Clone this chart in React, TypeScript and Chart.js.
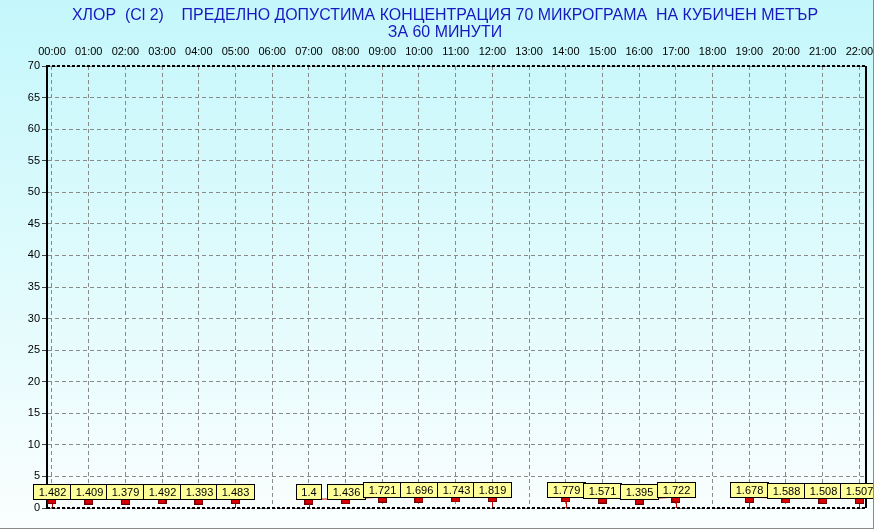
import React, { useEffect, useRef } from 'react';
import { Chart, registerables } from 'chart.js';

Chart.register(...registerables);

const hours = [0, 1, 2, 3, 4, 5, 6, 7, 8, 9, 10, 11, 12, 13, 14, 15, 16, 17, 18, 19, 20, 21, 22];
const hourLabels = ['00:00', '01:00', '02:00', '03:00', '04:00', '05:00', '06:00', '07:00', '08:00', '09:00', '10:00', '11:00', '12:00', '13:00', '14:00', '15:00', '16:00', '17:00', '18:00', '19:00', '20:00', '21:00', '22:00'];
const chlorineValues: (number | null)[] = [1.482, 1.409, 1.379, 1.492, 1.393, 1.483, null, 1.4, 1.436, 1.721, 1.696, 1.743, 1.819, null, 1.779, 1.571, 1.395, 1.722, null, 1.678, 1.588, 1.508, 1.507];
const yMin = 0;
const yMax = 70;
const yStep = 5;
const titleLines = ['ХЛОР  (Cl 2)    ПРЕДЕЛНО ДОПУСТИМА КОНЦЕНТРАЦИЯ 70 МИКРОГРАМА  НА КУБИЧЕН МЕТЪР', 'ЗА 60 МИНУТИ'];

const FONT = '"Liberation Sans", Arial, sans-serif';

function makeMarker(): HTMLCanvasElement {
  const c = document.createElement('canvas');
  c.width = 9;
  c.height = 11;
  const g = c.getContext('2d')!;
  g.fillStyle = '#6a0000';
  g.fillRect(0, 5, 9, 6);
  g.fillStyle = '#d80000';
  g.fillRect(1, 6, 7, 4);
  return c;
}

const decorPlugin = {
  id: 'decor',
  afterDatasetsDraw(chart: any) {
    const ctx = chart.ctx as CanvasRenderingContext2D;
    const area = chart.chartArea;
    const meta = chart.getDatasetMeta(0);
    ctx.save();
    // stems at segment ends
    ctx.strokeStyle = '#d00000';
    ctx.lineWidth = 1;
    chlorineValues.forEach((v, i) => {
      if (v == null) return;
      const prev = i > 0 ? chlorineValues[i - 1] : null;
      const next = i < chlorineValues.length - 1 ? chlorineValues[i + 1] : null;
      if (prev != null && next != null) return;
      const p = meta.data[i];
      const x = Math.round(p.x) + 0.5;
      ctx.beginPath();
      ctx.moveTo(x, p.y + 5);
      ctx.lineTo(x, area.bottom);
      ctx.stroke();
    });
    // frame borders
    ctx.strokeStyle = '#000';
    ctx.lineWidth = 2;
    ctx.setLineDash([3, 2]);
    ctx.beginPath();
    ctx.moveTo(area.left, area.top);
    ctx.lineTo(area.right, area.top);
    ctx.moveTo(area.left, area.bottom);
    ctx.lineTo(area.right, area.bottom);
    ctx.stroke();
    ctx.setLineDash([]);
    ctx.beginPath();
    ctx.moveTo(area.right, area.top);
    ctx.lineTo(area.right, area.bottom);
    ctx.stroke();
    // value labels
    ctx.font = '11px ' + FONT;
    ctx.textAlign = 'center';
    ctx.textBaseline = 'middle';
    ctx.lineWidth = 1;
    chlorineValues.forEach((v, i) => {
      if (v == null) return;
      const p = meta.data[i];
      const text = String(v);
      const w = Math.round(ctx.measureText(text).width + 10);
      const h = 15;
      const left = Math.round(p.x - w / 2) + 0.5;
      const bottom = Math.round(p.y) + 0.5;
      const top = bottom - h;
      ctx.fillStyle = '#ffff99';
      ctx.fillRect(left, top, w, h);
      ctx.strokeStyle = '#000';
      ctx.strokeRect(left, top, w, h);
      ctx.fillStyle = '#000';
      ctx.fillText(text, left + w / 2, top + h / 2 + 0.5);
    });
    ctx.restore();
  },
  afterDraw(chart: any) {
    const ctx = chart.ctx as CanvasRenderingContext2D;
    ctx.save();
    ctx.fillStyle = '#1818c0';
    ctx.font = '17px ' + FONT;
    ctx.textAlign = 'center';
    ctx.textBaseline = 'middle';
    const w = ctx.measureText(titleLines[0]).width;
    const sx = Math.min(1, 746 / w);
    const ys = [15, 32];
    titleLines.forEach((line, i) => {
      ctx.save();
      ctx.translate(445, ys[i]);
      ctx.scale(sx, 1);
      ctx.fillText(line, 0, 0);
      ctx.restore();
    });
    ctx.restore();
  },
};

export default function App() {
  const ref = useRef<HTMLCanvasElement | null>(null);

  useEffect(() => {
    if (!ref.current) return;
    const marker = makeMarker();
    const chart = new Chart(ref.current, {
      type: 'line',
      data: {
        datasets: [
          {
            data: hours.map((h, i) => ({ x: h, y: chlorineValues[i] as any })),
            borderColor: '#d00000',
            borderWidth: 1,
            pointStyle: marker as any,
            pointRadius: 5,
            spanGaps: false,
            tension: 0,
          },
        ],
      },
      options: {
        animation: false,
        responsive: false,
        devicePixelRatio: 1,
        layout: { padding: { top: 0, left: 0, right: 8, bottom: 21 } },
        plugins: {
          legend: { display: false },
          tooltip: { enabled: false },
          title: { display: false },
        },
        scales: {
          x: {
            type: 'linear',
            position: 'top',
            min: -0.136,
            max: 22.18,
            afterBuildTicks: (s: any) => {
              s.ticks = hours.map((h) => ({ value: h }));
            },
            afterFit: (s: any) => {
              s.height = 66;
              s.paddingLeft = 0;
              s.paddingRight = 0;
            },
            ticks: {
              autoSkip: false,
              maxRotation: 0,
              padding: 7,
              color: '#000',
              font: { family: FONT, size: 11 },
              callback: (v: any) => hourLabels[hours.indexOf(Number(v))] ?? '',
            },
            grid: { color: '#8a8a8a', lineWidth: 1, drawTicks: false },
            border: { display: false, dash: [4, 3] },
          },
          y: {
            type: 'linear',
            position: 'left',
            min: yMin,
            max: yMax,
            afterFit: (s: any) => {
              s.width = 47;
              s.paddingTop = 0;
              s.paddingBottom = 0;
            },
            ticks: {
              stepSize: yStep,
              padding: 2,
              color: '#000',
              font: { family: FONT, size: 11 },
            },
            grid: {
              color: '#8a8a8a',
              lineWidth: 1,
              drawTicks: true,
              tickLength: 5,
              tickColor: '#444',
              tickBorderDash: [],
            },
            border: { display: true, color: '#000', width: 2, dash: [4, 3] },
          },
        },
      },
      plugins: [decorPlugin],
    });
    return () => chart.destroy();
  }, []);

  return (
    <div
      style={{
        position: 'fixed',
        left: 0,
        top: 0,
        width: 874,
        height: 529,
        background: 'linear-gradient(to bottom, #c4f7fb 0%, #e2fbfd 55%, #fbfefe 100%)',
      }}
    >
      <canvas ref={ref} width={874} height={529} style={{ display: 'block' }} />
      <div style={{ position: 'absolute', right: 0, top: 0, width: 1, height: 529, background: '#8a8a8a' }} />
      <div style={{ position: 'absolute', left: 0, bottom: 0, width: 874, height: 1, background: '#8a8a8a' }} />
    </div>
  );
}
